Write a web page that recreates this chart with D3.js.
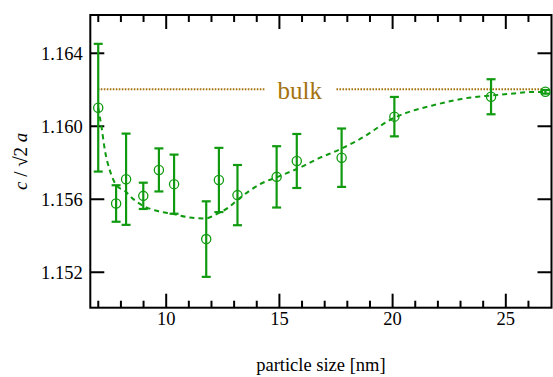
<!DOCTYPE html>
<html>
<head>
<meta charset="utf-8">
<script src="https://cdn.jsdelivr.net/npm/d3@7"></script>
<style>
  body { margin: 0; background: #fff; }
  svg { display: block; font-family: "Liberation Serif", "DejaVu Serif", serif; }
  svg text { font-family: "Liberation Serif", "DejaVu Serif", serif; }
</style>
</head>
<body>
<svg id="chart" width="553" height="377"></svg>
<script>
// measured particle sizes [nm] and c/(sqrt2 a) with error bars
const sizes = [7.02, 7.81, 8.25, 9.01, 9.70, 10.37, 11.79, 12.35, 13.17, 14.90, 15.79, 17.77, 20.10, 24.37, 26.77];
const ratio = [1.16099, 1.15574, 1.15707, 1.15616, 1.15758, 1.1568, 1.15379, 1.15703, 1.1562, 1.1572, 1.15807, 1.15825, 1.1605, 1.16159, 1.16186];
const errors = [0.0035, 0.001, 0.0025, 0.00072, 0.00118, 0.00162, 0.00207, 0.00176, 0.00165, 0.00168, 0.00148, 0.0016, 0.00108, 0.00096, 0.0001];

// fitted curve
const fitX = [7.02, 7.17, 7.32, 7.54, 7.84, 8.20, 8.57, 9.01, 9.60, 10.34, 11.07, 11.74, 12.25, 12.77, 13.21, 14.17, 15.05, 15.93, 16.82, 17.70, 18.44, 20.10, 21.97, 23.59, 24.40, 25.35, 26.09, 26.75];
const fitY = [1.16099, 1.15989, 1.15862, 1.15753, 1.15671, 1.15643, 1.15598, 1.15561, 1.15534, 1.15516, 1.15497, 1.15492, 1.15516, 1.15552, 1.15598, 1.1568, 1.15725, 1.15771, 1.15825, 1.15871, 1.15917, 1.16044, 1.16117, 1.16157, 1.16166, 1.16177, 1.16185, 1.16185];

// bulk reference value
const bulk = 1.162;
const bulkRange = [7.0, 26.65];
const bulkLabel = "bulk";

const xMajor = [10, 15, 20, 25];
const xMinor = [7, 8, 9, 11, 12, 13, 14, 16, 17, 18, 19, 21, 22, 23, 24, 26];
const yMajor = [1.152, 1.156, 1.160, 1.164];

const green = "#109a10";
const brown = "#a4720f";

const pLeft = 90.3, pRight = 551.5, pTop = 15, pBottom = 307.7;

const svg = d3.select("#chart");

const x = d3.scaleLinear().domain([6.67, 27.04]).range([pLeft, pRight]);
const y = d3.scaleLinear().domain([1.15003, 1.16607]).range([pBottom, pTop]);

// axes (ticks pointing inward)
function styleAxis(g) {
  g.attr("font-family", null).attr("font-size", null);
  g.select(".domain").remove();
  g.selectAll("line").attr("stroke", "#000").attr("stroke-width", 2);
  g.selectAll("text").attr("fill", "#000").style("font-size", "18.5px");
}

svg.append("g")
  .attr("transform", "translate(0," + pBottom + ")")
  .call(d3.axisBottom(x).tickValues(xMajor).tickSize(-14).tickSizeOuter(0).tickFormat(d3.format("d")))
  .call(styleAxis)
  .selectAll("text").attr("y", 17.6).attr("dy", 0);

svg.append("g")
  .attr("transform", "translate(0," + pBottom + ")")
  .call(d3.axisBottom(x).tickValues(xMinor).tickSize(-7).tickSizeOuter(0).tickFormat(""))
  .call(styleAxis);

svg.append("g")
  .attr("transform", "translate(0," + pTop + ")")
  .call(d3.axisTop(x).tickValues(xMajor).tickSize(-14).tickSizeOuter(0).tickFormat(""))
  .call(styleAxis);

svg.append("g")
  .attr("transform", "translate(0," + pTop + ")")
  .call(d3.axisTop(x).tickValues(xMinor).tickSize(-7).tickSizeOuter(0).tickFormat(""))
  .call(styleAxis);

svg.append("g")
  .attr("transform", "translate(" + pLeft + ",0)")
  .call(d3.axisLeft(y).tickValues(yMajor).tickSize(-14).tickSizeOuter(0).tickFormat(d3.format(".3f")))
  .call(styleAxis)
  .selectAll("text").attr("x", -7.6).attr("dy", "0.36em");

svg.append("g")
  .attr("transform", "translate(" + pRight + ",0)")
  .call(d3.axisRight(y).tickValues(yMajor).tickSize(-14).tickSizeOuter(0).tickFormat(""))
  .call(styleAxis);

// frame
svg.append("rect")
  .attr("x", pLeft).attr("y", pTop)
  .attr("width", pRight - pLeft).attr("height", pBottom - pTop)
  .attr("fill", "none").attr("stroke", "#000").attr("stroke-width", 2);

// bulk line with label gap
const label = svg.append("text")
  .attr("x", x(15.92)).attr("y", y(bulk) + 10.2)
  .attr("text-anchor", "middle")
  .attr("fill", brown)
  .style("font-size", "25px")
  .text(bulkLabel);
const bb = label.node().getBBox();
const gapL = x.invert(bb.x - 13), gapR = x.invert(bb.x + bb.width + 14);

svg.selectAll("line.bulk")
  .data([[bulkRange[0], gapL], [gapR, bulkRange[1]]])
  .enter().append("line")
  .attr("class", "bulk")
  .attr("x1", d => x(d[0])).attr("x2", d => x(d[1]))
  .attr("y1", y(bulk)).attr("y2", y(bulk))
  .attr("stroke", brown).attr("stroke-width", 2)
  .attr("stroke-dasharray", "1.6,1.4");

// fitted curve
const fit = fitX.map((v, i) => [v, fitY[i]]);
svg.append("path")
  .datum(fit)
  .attr("fill", "none")
  .attr("stroke", green).attr("stroke-width", 2)
  .attr("stroke-dasharray", "5,4")
  .attr("d", d3.line().x(d => x(d[0])).y(d => y(d[1])).curve(d3.curveMonotoneX));

// error bars
const pts = sizes.map((s, i) => ({ s: s, v: ratio[i], e: errors[i] }));
const eb = svg.append("g").attr("stroke", green).attr("stroke-width", 2.2);
eb.selectAll("line.v").data(pts).enter().append("line")
  .attr("x1", d => x(d.s)).attr("x2", d => x(d.s))
  .attr("y1", d => y(d.v - d.e)).attr("y2", d => y(d.v + d.e));
eb.selectAll("line.t").data(pts).enter().append("line")
  .attr("x1", d => x(d.s) - 4.5).attr("x2", d => x(d.s) + 4.5)
  .attr("y1", d => y(d.v + d.e)).attr("y2", d => y(d.v + d.e));
eb.selectAll("line.b").data(pts).enter().append("line")
  .attr("x1", d => x(d.s) - 4.5).attr("x2", d => x(d.s) + 4.5)
  .attr("y1", d => y(d.v - d.e)).attr("y2", d => y(d.v - d.e));

svg.selectAll("circle.pt").data(pts).enter().append("circle")
  .attr("class", "pt")
  .attr("cx", d => x(d.s)).attr("cy", d => y(d.v))
  .attr("r", 4.6)
  .attr("fill", "none").attr("stroke", green).attr("stroke-width", 1.3);

// axis titles
svg.append("text")
  .attr("x", (pLeft + pRight) / 2).attr("y", 371)
  .attr("text-anchor", "middle")
  .style("font-size", "18.5px")
  .text("particle size [nm]");

const yt = svg.append("text")
  .attr("transform", "translate(27," + ((pTop + pBottom) / 2) + ") rotate(-90)")
  .attr("text-anchor", "middle")
  .style("font-size", "19px");
yt.append("tspan").style("font-style", "italic").text("c");
yt.append("tspan").text(" / \u221A2 ");
yt.append("tspan").style("font-style", "italic").text("a");
</script>
</body>
</html>
